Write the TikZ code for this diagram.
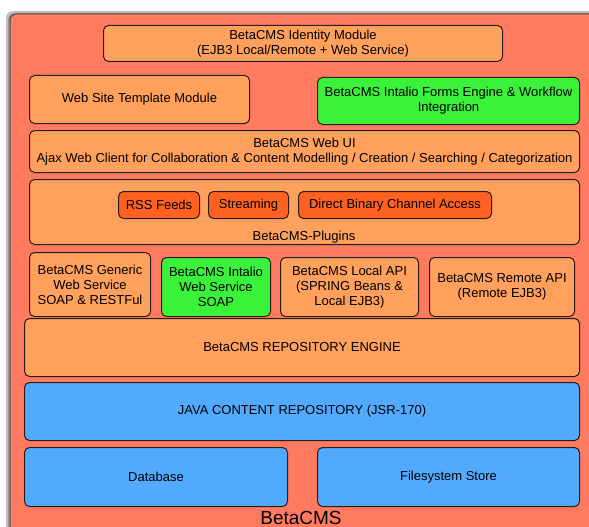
\documentclass[tikz,border=0pt]{standalone}
\usepackage{fontspec}
\setmainfont{Liberation Sans}
\definecolor{salmon}{RGB}{255,122,95}
\definecolor{lorange}{RGB}{255,160,92}
\definecolor{dorange}{RGB}{255,98,32}
\definecolor{lgreen}{RGB}{58,242,58}
\definecolor{lblue}{RGB}{82,170,255}
\definecolor{edge}{RGB}{40,30,25}
\tikzset{
  box/.style={draw=edge, line width=1pt, rounded corners=5pt, anchor=north west,
    align=center, inner sep=2pt, font=\fontsize{13}{15}\selectfont},
  orangebox/.style={box, fill=lorange},
  greenbox/.style={box, fill=lgreen},
  btnbox/.style={box, fill=dorange},
  bluebox/.style={box, fill=lblue},
}
\begin{document}
\begin{tikzpicture}[x=1pt,y=-1pt]
\useasboundingbox (0,0) rectangle (589,527);
\clip (0,0) rectangle (589,527);
\fill[white] (0,0) rectangle (589,527);
% shadow of the outer container
\fill[black!25, rounded corners=7pt] (6,11) rectangle (600,540);
\fill[black!40, rounded corners=7pt] (8,13) rectangle (600,540);
% outer container
\draw[draw=black!70, fill=salmon, line width=1pt, rounded corners=6pt] (10,14) rectangle (600,540);

\node[orangebox, minimum width=399pt, minimum height=36pt] (identity) at (103,25)
  {BetaCMS Identity Module\\(EJB3 Local/Remote + Web Service)};
\node[orangebox, minimum width=220pt, minimum height=48pt] (template) at (29,75)
  {Web Site Template Module};
\node[greenbox, minimum width=262pt, minimum height=47pt] (forms) at (317,77)
  {BetaCMS Intalio Forms Engine \& Workflow\\Integration};
\node[orangebox, minimum width=550pt, minimum height=42pt, inner sep=1pt] (webui) at (29,130)
  {BetaCMS Web UI\\Ajax Web Client for Collaboration \& Content Modelling / Creation / Searching / Categorization};
\node[orangebox, minimum width=550pt, minimum height=65pt] (plugins) at (29,179) {};
\node[font=\fontsize{13}{15}\selectfont] (pluginslabel) at (304,237) {BetaCMS-Plugins};
\node[btnbox, minimum width=81pt, minimum height=27pt] (rss) at (118,191) {RSS Feeds};
\node[btnbox, minimum width=80pt, minimum height=27pt] (stream) at (208,191) {Streaming};
\node[btnbox, minimum width=193pt, minimum height=27pt] (direct) at (298,191) {Direct Binary Channel Access};

\node[orangebox, minimum width=121pt, minimum height=64pt] (generic) at (29,252)
  {BetaCMS Generic\\Web Service\\SOAP \& RESTFul};
\node[greenbox, minimum width=109pt, minimum height=59pt] (intws) at (161,257)
  {BetaCMS Intalio\\Web Service\\SOAP};
\node[orangebox, minimum width=138pt, minimum height=59pt] (local) at (280,257)
  {BetaCMS Local API\\(SPRING Beans \&\\Local EJB3)};
\node[orangebox, minimum width=145pt, minimum height=59pt] (remote) at (429,257)
  {BetaCMS Remote API\\(Remote EJB3)};

\node[orangebox, minimum width=555pt, minimum height=58pt] (engine) at (24,318)
  {BetaCMS REPOSITORY ENGINE};
\node[bluebox, minimum width=555pt, minimum height=58pt] (jcr) at (24,382)
  {JAVA CONTENT REPOSITORY (JSR-170)};
\node[bluebox, minimum width=263pt, minimum height=59pt] (db) at (24,447)
  {Database};
\node[bluebox, minimum width=262pt, minimum height=59pt] (fs) at (317,447)
  {Filesystem Store};

\node[anchor=base, font=\fontsize{19}{22}\selectfont, inner sep=0pt] (betacms) at (301,524) {BetaCMS};
\end{tikzpicture}
\end{document}
